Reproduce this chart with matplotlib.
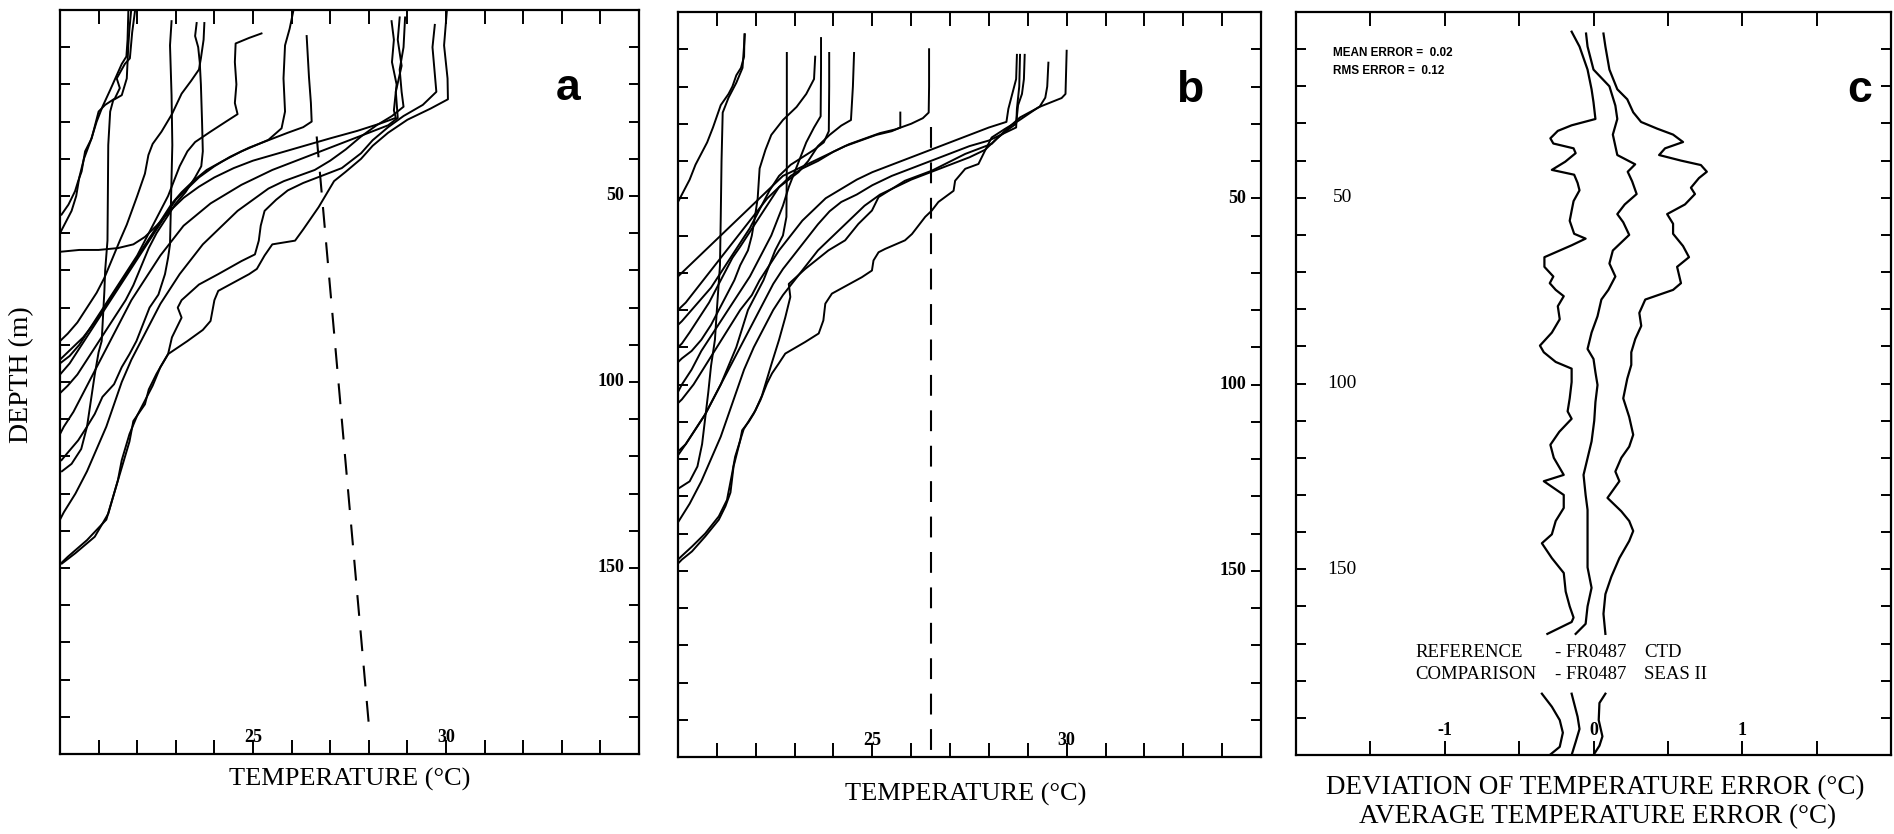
import matplotlib.pyplot as plt

plt.rcParams['font.family'] = ['Liberation Serif', 'DejaVu Serif']

# ---- panel a: SEAS temperature profiles, (temperature degC, depth m) ----
A01 = [(21.94, 0.5), (21.87, 6), (21.81, 13), (21.68, 14.5), (21.47, 18.4), (21.55, 21), (21.42, 23.8),
       (21.17, 25.5), (21.0, 27.3), (20.82, 34.5), (20.65, 38), (20.56, 43.4), (20.47, 46), (20.39, 48.7),
       (20.22, 52.3), (20.04, 55)]
A02 = [(21.84, 0.5), (21.8, 5), (21.77, 9.5), (21.75, 14), (21.73, 18.4), (21.6, 22.9), (21.38, 24.2),
       (21.3, 27.3), (21.25, 36.3), (21.24, 49.6), (21.23, 62), (21.17, 70), (21.15, 75.5), (21.08, 89),
       (21.0, 92), (20.9, 98), (20.8, 105), (20.7, 112), (20.55, 118), (20.3, 122), (20.05, 124)]
A03 = [(21.77, 0.5), (21.75, 8), (21.72, 12.5), (21.6, 14.5), (21.45, 18), (21.3, 21.5), (21.1, 26),
       (20.95, 30), (20.8, 35), (20.62, 40), (20.5, 45), (20.42, 50), (20.3, 54), (20.15, 57), (20.0, 60)]
A04 = [(22.89, 3), (22.85, 9.5), (22.89, 22.9), (22.91, 36.3), (22.89, 45), (22.87, 54), (22.85, 63),
       (22.8, 66.6), (22.72, 71), (22.55, 76.5), (22.32, 80), (22.15, 84.5), (21.98, 89), (21.8, 92.5),
       (21.6, 96), (21.4, 100.6), (21.1, 104), (20.9, 108.6), (20.7, 112), (20.47, 115.7), (20.2, 119),
       (20.04, 121)]
A05 = [(23.54, 3.5), (23.5, 7), (23.58, 10), (23.62, 14), (23.65, 20), (23.68, 30), (23.7, 38), (23.66, 42),
       (23.5, 45), (23.25, 49), (23.0, 52), (22.75, 56), (22.5, 60), (22.3, 64), (22.1, 69), (21.9, 74),
       (21.7, 78), (21.45, 82), (21.2, 86), (20.95, 90), (20.7, 94), (20.45, 98), (20.2, 101), (20.0, 103)]
A06 = [(23.74, 3.5), (23.72, 8), (23.65, 13), (23.6, 16), (23.4, 19), (23.15, 22.5), (22.9, 28),
       (22.63, 32.7), (22.4, 36), (22.29, 39), (22.2, 44), (22.0, 50), (21.86, 54), (21.73, 57.7),
       (21.55, 62), (21.35, 67), (21.15, 72), (20.95, 76), (20.7, 80), (20.45, 84), (20.2, 87), (20.0, 89)]
A07 = [(25.22, 6.3), (24.9, 7.5), (24.55, 9), (24.53, 14), (24.57, 20), (24.53, 25), (24.6, 28), (24.3, 30),
       (23.9, 32.7), (23.5, 35.5), (23.3, 38), (23.1, 42), (22.95, 46), (22.8, 50), (22.6, 54), (22.4, 58),
       (22.2, 62), (22.0, 66), (21.75, 70), (21.5, 74), (21.25, 78), (21.0, 82), (20.75, 86), (20.5, 90),
       (20.25, 93), (20.0, 95)]
A08 = [(26.04, 0.5), (25.95, 5), (25.83, 9.5), (25.79, 18.4), (25.83, 27.3), (25.74, 31.8), (25.4, 34.9),
       (24.7, 38), (24.2, 40.7), (23.8, 43), (23.45, 46), (23.15, 49), (22.9, 52), (22.65, 56), (22.4, 60),
       (22.15, 64), (21.9, 68), (21.65, 72), (21.4, 76), (21.15, 80), (20.9, 84), (20.6, 88), (20.3, 91),
       (20.0, 94)]
A09 = [(26.39, 7), (26.45, 18), (26.5, 25), (26.52, 30), (26.3, 31.5), (25.9, 33), (25.4, 35), (24.9, 37),
       (24.4, 39.5), (24.0, 42), (23.6, 45), (23.3, 48), (23.0, 51), (22.75, 55), (22.5, 59), (22.25, 63),
       (22.0, 67), (21.75, 71), (21.5, 75), (21.25, 79), (21.0, 83), (20.75, 87), (20.5, 91), (20.25, 95),
       (20.0, 98)]
A10 = [(28.59, 3), (28.65, 8), (28.6, 14), (28.72, 20), (28.65, 27), (28.7, 29), (28.3, 30.5), (27.7, 32.5),
       (27.0, 34.5), (26.5, 36), (26.0, 37.5), (25.5, 39), (25.0, 40.5), (24.5, 42.5), (24.0, 45),
       (23.6, 47.5), (23.2, 50.5), (22.85, 54), (22.5, 58), (22.2, 61), (21.9, 63), (21.5, 64), (21.0, 64.5),
       (20.5, 64.5), (20.0, 65)]
A11 = [(28.8, 2), (28.75, 8), (28.85, 15), (28.7, 22), (28.75, 29), (28.5, 31), (28.0, 33), (27.5, 35),
       (27.0, 37), (26.5, 39), (26.0, 41), (25.5, 43), (25.1, 45), (24.7, 47), (24.3, 49.5), (23.9, 52),
       (23.55, 55), (23.2, 58), (22.9, 62), (22.6, 66), (22.35, 70), (22.1, 74), (21.85, 78), (21.6, 83),
       (21.35, 88), (21.1, 93), (20.85, 98), (20.6, 103), (20.35, 108), (20.1, 112), (20.0, 114)]
A12 = [(28.94, 2), (28.9, 10), (28.8, 16), (28.85, 22), (28.9, 26), (28.6, 28.5), (28.2, 31), (27.8, 34),
       (27.4, 37.5), (27.0, 40.5), (26.6, 43), (26.2, 44.5), (25.8, 46), (25.4, 48), (25.0, 51), (24.6, 54),
       (24.3, 57), (24.0, 60), (23.7, 63), (23.4, 67), (23.1, 71), (22.85, 75), (22.6, 79), (22.35, 84),
       (22.1, 89), (21.85, 94), (21.6, 100), (21.4, 106), (21.2, 112), (20.95, 118), (20.7, 124), (20.4, 130),
       (20.1, 135), (20.0, 137)]
A13 = [(29.71, 4), (29.65, 10), (29.7, 16), (29.75, 22), (29.4, 25.5), (28.9, 28.5), (28.5, 31.5),
       (28.1, 35), (27.8, 38.5), (27.3, 42.5), (26.8, 44.5), (26.3, 46.5), (25.9, 48.5), (25.6, 51),
       (25.3, 54), (25.2, 58), (25.15, 62), (25.05, 65.7), (24.7, 67.5), (24.1, 71), (23.6, 73.8),
       (23.15, 78), (23.05, 80), (23.15, 82.7), (22.9, 88), (22.8, 92.5), (22.5, 97.8), (22.3, 102),
       (22.2, 106), (21.9, 110.5), (21.8, 116), (21.6, 123), (21.4, 130), (21.2, 137), (20.7, 142.5),
       (20.2, 147), (20.0, 149)]
A14 = [(30.02, 0.5), (29.95, 9.5), (30.04, 18.4), (30.05, 24), (29.6, 26.5), (29.0, 29.5), (28.5, 33),
       (28.1, 36.5), (27.8, 40), (27.4, 43.5), (27.1, 46), (26.9, 49.5), (26.7, 53), (26.5, 56), (26.3, 59),
       (26.09, 62), (25.5, 63), (25.3, 66), (25.1, 69.6), (24.9, 71), (24.1, 75.5), (24.0, 78), (23.9, 83.6),
       (23.7, 86), (23.3, 89), (22.8, 92.5), (22.6, 96), (22.4, 101), (22.0, 109), (21.8, 114), (21.6, 121),
       (21.5, 126.4), (21.25, 135.4), (20.9, 141.6), (20.4, 146), (20.05, 148.8)]
PROFILES_A = [A01, A02, A03, A04, A05, A06, A07, A08, A09, A10, A11, A12, A13, A14]

# ---- panel b: CTD temperature profiles ----
B01 = [(21.71, 6), (21.7, 12), (21.62, 15), (21.5, 17), (21.4, 20), (21.3, 22), (21.1, 25), (21.0, 28),
       (20.9, 31), (20.75, 35), (20.6, 38), (20.45, 41), (20.3, 45), (20.15, 48), (20.0, 51)]
B02 = [(21.72, 6), (21.66, 15), (21.5, 19), (21.3, 23), (21.15, 27), (21.12, 40), (21.1, 55), (21.08, 68),
       (21.0, 80), (20.95, 88), (20.85, 95), (20.78, 102), (20.7, 109), (20.62, 116), (20.5, 122),
       (20.3, 126), (20.0, 128)]
B03 = [(22.8, 11), (22.8, 25), (22.8, 40), (22.79, 55), (22.7, 60), (22.5, 64), (22.35, 68), (22.2, 72),
       (22.0, 76), (21.8, 80), (21.65, 85), (21.5, 90), (21.3, 95), (21.1, 100), (20.9, 104), (20.7, 108),
       (20.45, 112), (20.2, 116), (20.0, 118)]
B04 = [(23.53, 12), (23.5, 18), (23.3, 22), (23.05, 25.5), (22.7, 29), (22.4, 33), (22.25, 37), (22.1, 42),
       (22.05, 50), (21.98, 55), (21.9, 60), (21.8, 64), (21.6, 68), (21.45, 72), (21.25, 76), (21.05, 80),
       (20.85, 84), (20.6, 88), (20.35, 91), (20.1, 93), (20.0, 94)]
B05 = [(23.68, 7), (23.68, 15), (23.67, 28), (23.5, 31), (23.3, 35), (23.15, 39), (23.0, 43), (22.85, 47),
       (22.7, 52), (22.55, 56), (22.4, 60), (22.25, 63), (22.05, 67), (21.85, 71), (21.6, 75), (21.35, 79),
       (21.1, 83), (20.85, 87), (20.6, 91), (20.35, 96), (20.1, 100), (20.0, 102)]
B06 = [(23.89, 11), (23.89, 20), (23.88, 32), (23.75, 35), (23.5, 37), (23.2, 39), (22.9, 41), (22.6, 44),
       (22.35, 48), (22.1, 53), (21.85, 58), (21.6, 62), (21.35, 66), (21.1, 70), (20.85, 74), (20.6, 77),
       (20.35, 80), (20.1, 83), (20.0, 84)]
B07 = [(24.53, 11), (24.5, 20), (24.45, 29), (24.2, 30.5), (23.9, 33), (23.6, 36), (23.35, 40), (23.1, 43),
       (22.85, 45), (22.6, 47), (22.3, 50), (22.0, 54), (21.7, 58), (21.4, 62), (21.1, 66), (20.8, 70),
       (20.5, 74), (20.2, 78), (20.0, 80)]
B08 = [(25.72, 27), (25.72, 31), (25.5, 32), (25.1, 33), (24.7, 34.5), (24.3, 36), (23.9, 38), (23.5, 40),
       (23.1, 42), (22.7, 44), (22.4, 47), (22.1, 50), (21.8, 53), (21.5, 56), (21.2, 59), (20.9, 62),
       (20.6, 65), (20.3, 68), (20.0, 71)]
B09 = [(26.46, 10), (26.46, 20), (26.45, 27), (26.3, 28.5), (26.0, 30), (25.6, 31.5), (25.2, 32.5),
       (24.8, 34), (24.4, 35.5), (24.0, 37.5), (23.6, 40), (23.2, 42), (22.9, 44), (22.6, 47), (22.35, 51),
       (22.1, 55), (21.85, 59), (21.6, 63), (21.4, 66), (21.2, 70), (21.0, 74), (20.8, 78), (20.55, 82),
       (20.3, 86), (20.1, 89), (20.0, 90)]
B10 = [(28.72, 11.5), (28.7, 18), (28.6, 22), (28.5, 26), (28.45, 29.5), (28.0, 31), (27.5, 33), (27.0, 35),
       (26.5, 37), (26.0, 39), (25.5, 41), (25.0, 43), (24.6, 45), (24.2, 47.5), (23.8, 50), (23.5, 53),
       (23.2, 56), (22.9, 60), (22.6, 64), (22.35, 68), (22.1, 72), (21.9, 76), (21.6, 80), (21.3, 85),
       (21.0, 90), (20.7, 95), (20.4, 100), (20.1, 104), (20.0, 105)]
B11 = [(28.8, 11.5), (28.78, 20), (28.72, 26), (28.7, 31), (28.4, 32.5), (28.0, 34.5), (27.5, 36), (27.0, 38),
       (26.5, 40), (26.0, 42), (25.5, 44), (25.0, 46.5), (24.6, 49), (24.2, 51), (23.9, 53.5), (23.6, 57),
       (23.3, 61), (23.0, 65), (22.7, 69), (22.45, 73), (22.2, 78), (21.95, 83), (21.7, 88), (21.45, 93),
       (21.2, 98), (20.95, 103), (20.7, 108), (20.45, 112), (20.2, 116), (20.0, 119)]
B12 = [(28.92, 11.5), (28.9, 18), (28.85, 22), (28.75, 25), (28.7, 30), (28.5, 31.5), (28.2, 34), (27.9, 37),
       (27.5, 39), (27.0, 41), (26.5, 43), (26.0, 45), (25.6, 47), (25.2, 49), (24.8, 52), (24.5, 55),
       (24.2, 58), (23.9, 61), (23.6, 64), (23.3, 68), (23.0, 72), (22.7, 76), (22.45, 80), (22.2, 85),
       (21.95, 90), (21.7, 96), (21.5, 102), (21.3, 108), (21.1, 114), (20.85, 120), (20.6, 126), (20.3, 132),
       (20.0, 137)]
B13 = [(29.53, 13.6), (29.5, 20), (29.45, 23), (29.3, 25.5), (28.8, 28.3), (28.41, 31.9), (28.07, 35.4),
       (27.39, 38.1), (26.53, 42.6), (25.84, 45.3), (25.16, 49.7), (24.99, 53.3), (24.64, 56.9), (24.3, 61.3),
       (23.87, 64), (23.27, 69), (22.85, 73), (22.89, 76.5), (22.76, 82), (22.6, 88), (22.42, 94), (22.16, 103),
       (21.99, 107), (21.69, 112), (21.6, 115), (21.47, 119.4), (21.39, 124), (21.26, 131), (21.05, 135.4),
       (20.7, 140), (20.36, 143.5), (20.1, 146), (19.95, 147.5)]
B14 = [(30.0, 10.4), (29.97, 22), (29.87, 23.1), (29.27, 25.6), (28.76, 29.2), (28.41, 31.4), (28.07, 33.7),
       (27.9, 37.2), (27.73, 40.8), (27.39, 42.1), (27.13, 45.3), (27.09, 48), (26.7, 51), (26.53, 53.3),
       (26.36, 55), (26.02, 59.6), (25.84, 61.3), (25.33, 63.6), (25.16, 64.5), (25.03, 66.7), (24.99, 69.4),
       (24.73, 71.2), (23.96, 75.6), (23.79, 78.3), (23.74, 82.8), (23.62, 86.3), (23.27, 88.6), (22.76, 91.7),
       (22.59, 94.4), (22.42, 97), (22.29, 99.7), (22.12, 104.2), (21.95, 107.8), (21.82, 110), (21.65, 112.3),
       (21.6, 115), (21.43, 122), (21.35, 129), (21.22, 132.7), (21.05, 136.3), (20.7, 140.8), (20.36, 144.8),
       (20.1, 147), (19.97, 148.4)]
PROFILES_B = [B01, B02, B03, B04, B05, B06, B07, B08, B09, B10, B11, B12, B13, B14]

# dashed reference lines (temperature, depth)
DASH_A = [(26.65, 34), (28.0, 192)]
DASH_B = [(26.5, 31), (26.5, 198)]

# ---- panel c: error statistics, (error degC, depth m) ----
C_MID_UPPER = [(-0.05, 5.8), (-0.04, 9.3), (0.0, 15.5), (0.107, 20), (0.147, 25.2), (0.16, 28.8), (0.13, 33),
               (0.16, 38.5), (0.28, 41), (0.23, 43), (0.26, 45.6), (0.29, 49), (0.21, 51.8), (0.16, 54.4),
               (0.2, 56.6), (0.24, 60), (0.13, 64.2), (0.107, 67.7), (0.147, 71.2), (0.10, 74.8), (0.053, 77.4),
               (0.027, 81.9), (-0.013, 86.3), (-0.04, 90.7), (0.0, 93.4), (0.013, 97), (0.027, 100.4),
               (0.013, 105), (0.005, 110), (-0.013, 115.6), (-0.067, 124.6), (-0.053, 130), (-0.04, 134),
               (-0.04, 140.6), (-0.04, 149.5), (-0.013, 155), (-0.04, 160), (-0.053, 164.7), (-0.12, 167.4)]
C_MID_LOWER = [(-0.147, 183.5), (-0.107, 189.7), (-0.094, 193), (-0.12, 196.5), (-0.147, 200)]
C_LEFT_UPPER = [(-0.147, 5.3), (-0.094, 9.3), (-0.04, 15.5), (-0.013, 20.8), (0.0, 24.3), (0.013, 28.8),
                (-0.147, 30.5), (-0.24, 32), (-0.29, 34), (-0.27, 35.4), (-0.134, 36.7), (-0.12, 38),
                (-0.19, 40.3), (-0.28, 42.5), (-0.13, 43.8), (-0.107, 46), (-0.094, 48), (-0.134, 50.9),
                (-0.147, 53.5), (-0.16, 56.2), (-0.13, 59.7), (-0.053, 61), (-0.147, 62.8), (-0.33, 66),
                (-0.33, 68.6), (-0.27, 71.2), (-0.294, 73), (-0.254, 74.8), (-0.2, 76.5), (-0.24, 79.2),
                (-0.227, 82.7), (-0.28, 86.3), (-0.36, 89.8), (-0.334, 91.6), (-0.254, 94.2), (-0.147, 96),
                (-0.147, 99.6), (-0.16, 104), (-0.174, 107.5), (-0.147, 109.5), (-0.23, 113), (-0.29, 116.5),
                (-0.267, 120), (-0.2, 124.6), (-0.334, 126.3), (-0.2, 130), (-0.2, 133.5), (-0.254, 137),
                (-0.28, 140.6), (-0.347, 143), (-0.28, 147), (-0.2, 151), (-0.187, 156), (-0.16, 160),
                (-0.134, 163), (-0.147, 164.2), (-0.31, 167.4)]
C_LEFT_LOWER = [(-0.347, 183.5), (-0.28, 187), (-0.227, 190.6), (-0.206, 194), (-0.227, 197.8), (-0.294, 200)]
C_RIGHT_UPPER = [(0.067, 5.8), (0.08, 9.3), (0.107, 15.5), (0.16, 20.8), (0.227, 23.5), (0.267, 27),
                 (0.32, 29.6), (0.428, 31.4), (0.535, 33), (0.602, 35), (0.481, 36.7), (0.441, 38.5),
                 (0.588, 40), (0.722, 41.2), (0.762, 43), (0.709, 44.7), (0.655, 47.3), (0.682, 49),
                 (0.615, 51.8), (0.495, 54.4), (0.535, 57), (0.535, 59.7), (0.602, 63), (0.642, 66),
                 (0.562, 68.6), (0.588, 73), (0.535, 74.8), (0.348, 77.4), (0.308, 81), (0.321, 84.5),
                 (0.281, 88), (0.254, 91.6), (0.254, 95), (0.227, 98.7), (0.2, 104), (0.24, 109), (0.267, 113.8),
                 (0.24, 117), (0.187, 120), (0.147, 123.7), (0.174, 126.3), (0.094, 130.8), (0.187, 134.4),
                 (0.24, 137), (0.267, 139.7), (0.24, 142.4), (0.174, 147), (0.12, 152), (0.08, 156.7),
                 (0.067, 162), (0.08, 167.4)]
C_RIGHT_LOWER = [(0.08, 183.5), (0.04, 186), (0.035, 190.6), (0.06, 195), (0.04, 197.5), (0.0, 200)]
CURVES_C = [C_LEFT_UPPER, C_LEFT_LOWER, C_MID_UPPER, C_MID_LOWER, C_RIGHT_UPPER, C_RIGHT_LOWER]

TEMP_TICKS = list(range(20, 36))
TEMP_LABELS = [25, 30]
ERR_TICKS = [-2, -1.5, -1, -0.5, 0, 0.5, 1, 1.5, 2]
ERR_LABELS = [-1, 0, 1]
DEPTH_TICKS = list(range(0, 201, 10))
DEPTH_LABELS = [50, 100, 150]

W, H = 1894, 834
fig = plt.figure(figsize=(W / 100, H / 100), dpi=100)


def px_axes(x0, y0, x1, y1):
    return fig.add_axes([x0 / W, 1 - y1 / H, (x1 - x0) / W, (y1 - y0) / H])


def frame(ax):
    for s in ax.spines.values():
        s.set_linewidth(1.6)
    ax.tick_params(direction='in', top=True, right=True, labelbottom=False, labelleft=False, width=1.4)
    ax.tick_params(axis='x', length=10)
    ax.tick_params(axis='y', length=7)


def trace(ax, pts, **kw):
    ax.plot([p[0] for p in pts], [p[1] for p in pts], color='black', **kw)


def temp_panel(ax, profiles, dash, letter, lw):
    frame(ax)
    for prof in profiles:
        trace(ax, prof, lw=lw, solid_joinstyle='round')
    trace(ax, dash, lw=1.5, dashes=(10, 7))
    ax.set_xlim(20, 35)
    ax.set_ylim(200, 0)
    ax.set_xticks(TEMP_TICKS)
    ax.set_yticks(DEPTH_TICKS)
    for v in TEMP_LABELS:
        ax.text(v, 195.5, str(v), ha='center', va='center', fontsize=13, fontweight='bold')
    for v in DEPTH_LABELS:
        ax.text(34.62, v, str(v), ha='right', va='center', fontsize=13, fontweight='bold')
    ax.text(0.877, 0.895, letter, transform=ax.transAxes, ha='center', va='center',
            family=['Liberation Sans', 'DejaVu Sans'], fontweight='bold', fontsize=32)


ax_a = px_axes(60, 10, 639, 754)
ax_b = px_axes(678, 12, 1261, 757)
ax_c = px_axes(1296, 12, 1891, 755)

temp_panel(ax_a, PROFILES_A, DASH_A, 'a', 1.4)
temp_panel(ax_b, PROFILES_B, DASH_B, 'b', 1.4)

# panel c
frame(ax_c)
for seg in CURVES_C:
    trace(ax_c, seg, lw=1.6, solid_joinstyle='round')
ax_c.set_xlim(-2, 2)
ax_c.set_ylim(200, 0)
ax_c.set_xticks(ERR_TICKS)
ax_c.set_yticks(DEPTH_TICKS)
for v in ERR_LABELS:
    ax_c.text(v, 193.3, str(v), ha='center', va='center', fontsize=13, fontweight='bold')
for v in DEPTH_LABELS:
    ax_c.text(-1.69, v, str(v), ha='center', va='center', fontsize=14)
ax_c.text(0.948, 0.895, 'c', transform=ax_c.transAxes, ha='center', va='center',
          family=['Liberation Sans', 'DejaVu Sans'], fontweight='bold', fontsize=32)
ax_c.text(-1.75, 11, 'MEAN ERROR =  0.02', ha='left', va='center', fontsize=8.5,
          family=['Liberation Sans', 'DejaVu Sans'], fontweight='bold')
ax_c.text(-1.75, 16, 'RMS ERROR =  0.12', ha='left', va='center', fontsize=8.5,
          family=['Liberation Sans', 'DejaVu Sans'], fontweight='bold')
for col_x, top_txt, bot_txt in [(-1.2, 'REFERENCE', 'COMPARISON'),
                                (-0.26, '- FR0487', '- FR0487'),
                                (0.34, 'CTD', 'SEAS II')]:
    ax_c.text(col_x, 172.5, top_txt, ha='left', va='center', fontsize=13.5)
    ax_c.text(col_x, 178.3, bot_txt, ha='left', va='center', fontsize=13.5)

# axis titles
fig.text(350 / W, 1 - 779 / H, 'TEMPERATURE (°C)', ha='center', va='center', fontsize=19)
fig.text(966 / W, 1 - 794 / H, 'TEMPERATURE (°C)', ha='center', va='center', fontsize=19)
fig.text(1595 / W, 1 - 788 / H, 'DEVIATION OF TEMPERATURE ERROR (°C)', ha='center', va='center', fontsize=19.5)
fig.text(1598 / W, 1 - 817 / H, 'AVERAGE TEMPERATURE ERROR (°C)', ha='center', va='center', fontsize=19.5)
fig.text(22 / W, 1 - 375 / H, 'DEPTH (m)', ha='center', va='center', rotation=90, fontsize=20)

fig.savefig('out.png', dpi=100)
